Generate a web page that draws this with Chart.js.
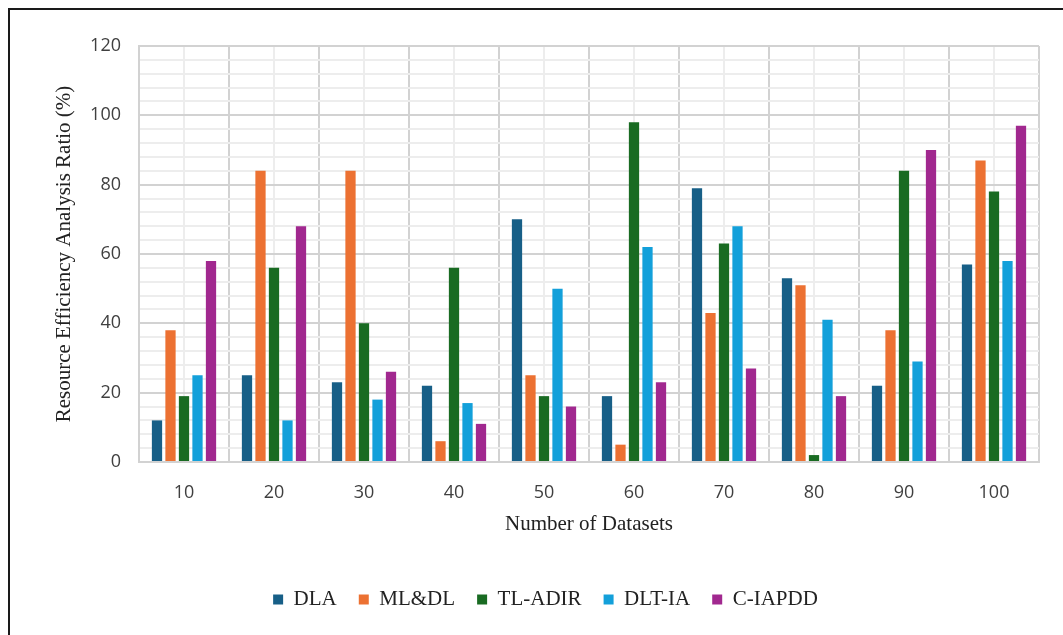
<!DOCTYPE html>
<html>
<head>
<meta charset="utf-8">
<script src="https://cdn.jsdelivr.net/npm/chart.js@4"></script>
<style>
  html, body { margin: 0; padding: 0; background: #fff; }
  #wrap { position: relative; width: 1063px; height: 635px; overflow: hidden; }
  #frame { position: absolute; left: 8px; top: 8px; width: 1100px; height: 700px;
           border-left: 2px solid #1a1a1a; border-top: 2px solid #1a1a1a; }
  canvas { position: absolute; left: 0; top: 0; }
</style>
</head>
<body>
<div id="wrap">
  <div id="frame"></div>
  <canvas id="chart" width="1063" height="635"></canvas>
</div>
<script>
// categories (number of datasets)
const datasetsCount = ["10", "20", "30", "40", "50", "60", "70", "80", "90", "100"];

// series values (%)
const dla    = [12, 25, 23, 22, 70, 19, 79, 53, 22, 57];
const mlDl   = [38, 84, 84, 6, 25, 5, 43, 51, 38, 87];
const tlAdir = [19, 56, 40, 56, 19, 98, 63, 2, 84, 78];
const dltIa  = [25, 12, 18, 17, 50, 62, 68, 41, 29, 58];
const cIapdd = [58, 68, 26, 11, 16, 23, 27, 19, 90, 97];

const seriesNames = ["DLA", "ML&DL", "TL-ADIR", "DLT-IA", "C-IAPDD"];
const seriesColors = ["#175f87", "#ec7132", "#196b22", "#13a0da", "#a1288f"];

const tickFont = { family: "'Open Sans', 'Noto Sans', sans-serif", size: 18 };
const serif = "'Liberation Serif', 'DejaVu Serif', serif";

const ctx = document.getElementById("chart").getContext("2d");
const chart = new Chart(ctx, {
  type: "bar",
  data: {
    labels: datasetsCount,
    datasets: [dla, mlDl, tlAdir, dltIa, cIapdd].map((vals, i) => ({
      label: seriesNames[i],
      data: vals,
      backgroundColor: seriesColors[i],
      borderWidth: 0,
      categoryPercentage: 0.75,
      barPercentage: 0.76,
    })),
  },
  options: {
    responsive: false,
    animation: false,
    layout: { padding: { left: 52, right: 24, top: 46, bottom: 15 } },
    plugins: {
      tooltip: { enabled: false },
      legend: {
        position: "bottom",
        labels: {
          font: { family: serif, size: 21 },
          color: "#222",
          boxWidth: 10,
          boxHeight: 10,
          padding: 22,
        },
      },
    },
    scales: {
      xMinor: {
        type: "category",
        position: "bottom",
        offset: true,
        ticks: { display: false },
        border: { display: false },
        grid: { offset: false, drawTicks: false, color: "#ededed", lineWidth: 2 },
      },
      x: {
        position: "bottom",
        offset: true,
        afterFit: (scale) => { scale.height = 105; },
        ticks: { font: tickFont, color: "#404040", padding: 20 },
        border: { color: "#d2d2d2", width: 2 },
        grid: { offset: true, drawTicks: false, color: "#d2d2d2", lineWidth: 2 },
        title: {
          display: true,
          text: "Number of Datasets",
          font: { family: serif, size: 21 },
          color: "#222",
          padding: { top: 9, bottom: 30 },
        },
      },
      y: {
        min: 0,
        max: 120,
        afterFit: (scale) => { scale.width = 87; },
        ticks: {
          stepSize: 4,
          autoSkip: false,
          font: tickFont,
          color: "#404040",
          padding: 18,
          callback: (v) => (v % 20 === 0 ? v : ""),
        },
        border: { color: "#d2d2d2", width: 2 },
        grid: {
          drawTicks: false,
          lineWidth: 2,
          color: (c) => (c.tick && c.tick.value % 20 === 0 ? "#d2d2d2" : "#ededed"),
        },
        title: {
          display: true,
          text: "Resource Efficiency Analysis Ratio (%)",
          font: { family: serif, size: 21 },
          color: "#222",
          padding: 0,
        },
      },
    },
  },
});
</script>
</body>
</html>
